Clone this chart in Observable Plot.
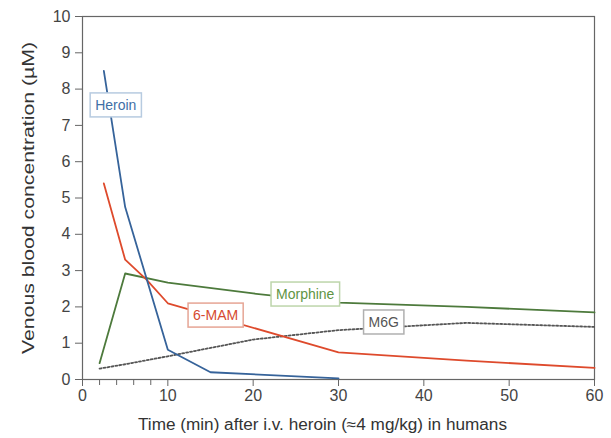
<!DOCTYPE html>
<html><head><meta charset="utf-8">
<script src="https://cdn.jsdelivr.net/npm/d3@7"></script>
<script src="https://cdn.jsdelivr.net/npm/@observablehq/plot@0.6"></script>
<style>
body{margin:0;background:#fff;}
svg{font-family:"Liberation Sans",Arial,sans-serif;}
</style></head><body>
<div id="chart"></div>
<script>
const heroinT = [2.5, 5, 10, 15, 30];
const heroinC = [8.5, 4.75, 0.82, 0.2, 0.03];
const mamT = [2.5, 5, 7.5, 10, 30, 45, 60];
const mamC = [5.4, 3.3, 2.75, 2.1, 0.75, 0.52, 0.32];
const morphT = [2, 5, 10, 20, 30, 45, 60];
const morphC = [0.45, 2.92, 2.67, 2.37, 2.12, 2.0, 1.85];
const m6gT = [2, 5, 10, 20, 30, 45, 60];
const m6gC = [0.3, 0.42, 0.64, 1.1, 1.36, 1.56, 1.45];
const labelNames = ["Heroin", "6-MAM", "Morphine", "M6G"];
const labelT = [3.9, 15.6, 26.1, 35.3];
const labelC = [7.55, 1.76, 2.34, 1.57];
const labelText = ["#3f6fa6", "#d64a30", "#5f9444", "#555555"];
const labelBorder = ["#b7cbe0", "#e6a595", "#bdd5ab", "#b0b0b0"];
const xTicks = [0, 10, 20, 30, 40, 50, 60];
const xMinor = [2, 4, 6, 8];
const yTicks = [0,1,2,3,4,5,6,7,8,9,10];

const pts = (t, c) => t.map((v, i) => ({t: v, c: c[i]}));
const labels = labelNames.map((n, i) => ({n, t: labelT[i], c: labelC[i], col: labelText[i], b: labelBorder[i]}));

const plot = Plot.plot({
  width: 611, height: 438,
  marginLeft: 82, marginRight: 17, marginTop: 16, marginBottom: 59,
  style: {fontSize: "16px", color: "#444"},
  x: {domain: [0, 60]},
  y: {domain: [0, 10]},
  marks: [
    Plot.frame({stroke: "#666", strokeWidth: 1.2}),
    Plot.axisX({ticks: xMinor, tickSize: 6, tickFormat: () => "", stroke: "#666", label: null}),
    Plot.axisX({ticks: xTicks, tickSize: 7, tickPadding: 3, stroke: "#666",
      label: "Time (min) after i.v. heroin (≈4 mg/kg) in humans", labelAnchor: "center", labelArrow: "none", labelOffset: 50}),
    Plot.axisY({ticks: yTicks, tickSize: 7, tickPadding: 5, stroke: "#666",
      label: "Venous blood concentration (µM)", labelAnchor: "center", labelArrow: "none", labelOffset: 60}),
    Plot.line(pts(m6gT, m6gC), {x: "t", y: "c", stroke: "#555", strokeWidth: 1.8, strokeDasharray: "2,2"}),
    Plot.line(pts(morphT, morphC), {x: "t", y: "c", stroke: "#4d7a3c", strokeWidth: 1.8}),
    Plot.line(pts(mamT, mamC), {x: "t", y: "c", stroke: "#de4a2c", strokeWidth: 1.8}),
    Plot.line(pts(heroinT, heroinC), {x: "t", y: "c", stroke: "#36639a", strokeWidth: 1.8}),
    Plot.text(labels, {x: "t", y: "c", text: "n", fill: "col", fontSize: 14, className: "lbl"})
  ]
});
document.getElementById("chart").appendChild(plot);
// boxes behind label texts
const g = plot.querySelector("g.lbl");
if (g) {
  g.querySelectorAll("text").forEach((tx, i) => {
    const bb = tx.getBBox();
    const r = document.createElementNS("http://www.w3.org/2000/svg", "rect");
    r.setAttribute("x", bb.x - 5); r.setAttribute("y", bb.y - 4);
    r.setAttribute("width", bb.width + 10); r.setAttribute("height", bb.height + 8);
    r.setAttribute("fill", "white"); r.setAttribute("stroke", labels[i].b); r.setAttribute("stroke-width", 1.5);
    if (tx.getAttribute("transform")) r.setAttribute("transform", tx.getAttribute("transform"));
    g.insertBefore(r, tx);
  });
}
const xl = plot.querySelector("[aria-label='x-axis label'] text");
if (xl) { xl.setAttribute("fill", "#333"); xl.setAttribute("dx", "-16"); xl.setAttribute("textLength", "369"); xl.setAttribute("lengthAdjust", "spacingAndGlyphs"); xl.style.fontSize = "16px"; }
const yl = plot.querySelector("[aria-label='y-axis label'] text");
if (yl) { yl.setAttribute("fill", "#333"); yl.setAttribute("textLength", "312"); yl.setAttribute("lengthAdjust", "spacingAndGlyphs"); yl.style.fontSize = "16px"; }
</script>
</body></html>
